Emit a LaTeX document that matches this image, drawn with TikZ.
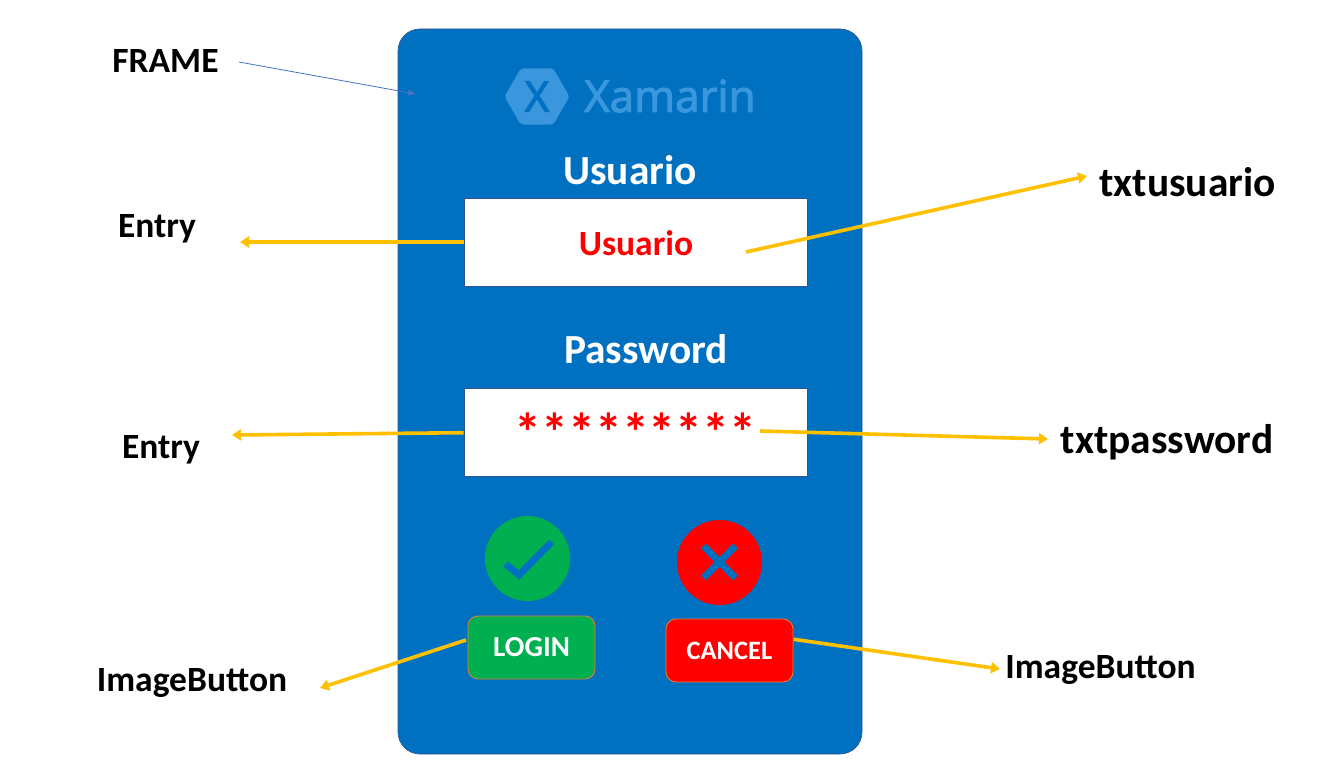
\documentclass[tikz,border=0pt]{standalone}
\usepackage{fontspec}
\setmainfont{Carlito}
\newfontfamily\logofont[FakeBold=2.5]{Open Sans}
\usetikzlibrary{positioning,arrows.meta,shapes.geometric}

\definecolor{framefill}{HTML}{0070C0}
\definecolor{frameline}{HTML}{2F5597}
\definecolor{logoblue}{HTML}{3A97DD}
\definecolor{okgreen}{HTML}{00B050}
\definecolor{pointeryellow}{HTML}{FFC000}
\definecolor{thinblue}{HTML}{4472C4}
\definecolor{btnline}{HTML}{ED7D31}

\begin{document}
\begin{tikzpicture}[x=1pt, y=-1pt, node distance = 102pt,
  every node/.style = {inner sep = 0pt, font = \bfseries},
  pointer/.style = {pointeryellow, line width = 3.6pt, -{Triangle[length=9pt,width=11pt]}},
  entrybox/.style = {rectangle, draw=frameline, line width = 0.7pt, fill=white,
    minimum width = 343pt, minimum height = 88pt},
  btnbox/.style = {rectangle, rounded corners = 10pt, draw=btnline, line width = 0.8pt,
    minimum width = 127pt, minimum height = 63pt, text=white, font = \fontsize{29}{29}\bfseries},
  bigtitle/.style = {text=white, font = \fontsize{41.4}{41.4}\bfseries},
  sidelabel/.style = {text=black, font = \fontsize{35.5}{35.5}\bfseries},
  namelabel/.style = {text=black, font = \fontsize{41.4}{41.4}\bfseries},
  roundbtn/.style = {circle, minimum size = 85pt},
  glyphline/.style = {framefill, line width = 7pt}]
  \useasboundingbox (0,0) rectangle (1325,775);

  \node (frame) [rectangle, rounded corners = 22pt, draw=frameline, line width = 0.7pt, fill=framefill,
    minimum width = 464pt, minimum height = 725pt] at (630,391.5) {};

  \node (hexlogo) [regular polygon, regular polygon sides = 6, fill=logoblue, rounded corners = 3pt,
    minimum size = 65pt] at (537,96.5) {};
  \node (hexx) [text=framefill, font = \fontsize{42}{42}\logofont] at (537,96.5) {X};
  \node (xamarin) [text=logoblue, font = \fontsize{44}{44}\logofont] at (670,96) {Xamarin};

  \node (titleuser) [bigtitle] at (630,170) {Usuario};
  \node (boxuser) [entrybox] at (635.5,242) {};
  \node (textuser) [text=red, font = \fontsize{35.5}{35.5}\bfseries] at (636,243) {Usuario};
  \node (titlepass) [bigtitle] at (646,349) {Password};
  \node (boxpass) [entrybox, below = of boxuser] {};
  \node (textpass) [text=red, font = \fontsize{54}{54}\bfseries] at (635.5,432) {*********};

  \node (okround) [roundbtn, fill=okgreen] at (527.5,558.5) {};
  \node (noround) [roundbtn, fill=red] at (719.5,562.5) {};
  \draw [glyphline] (505.5,564) -- (519,575) -- (551.5,542);
  \draw [glyphline] (703.5,546) -- (735.5,578) (735.5,546) -- (703.5,578);

  \node (btnlogin) [btnbox, fill=okgreen] at (531.5,647.5) {LOGIN};
  \node (btncancel) [btnbox, fill=red, font = \fontsize{26.5}{26.5}\bfseries] at (729.5,650.5) {CANCEL};

  \node (lblframe) [sidelabel] at (165.5,61) {FRAME};
  \node (lblentryuser) [sidelabel] at (157,228.5) {Entry};
  \node (lblentrypass) [sidelabel] at (161,449.5) {Entry};
  \node (lbluser) [namelabel] at (1187.5,182) {txtusuario};
  \node (lblpass) [namelabel] at (1167,442.5) {txtpassword};
  \node (lblimglogin) [sidelabel] at (192,682.5) {ImageButton};
  \node (lblimgcancel) [sidelabel] at (1100.5,669.5) {ImageButton};

  \coordinate (frametip) at (416,94);
  \coordinate (framestart) at (239,62);
  \coordinate (entryusertip) at (240,242);
  \coordinate (entrypasstip) at (232,435);
  \coordinate (userstart) at (746,252);
  \coordinate (usertip) at (1087,176);
  \coordinate (passstart) at (760,431);
  \coordinate (passtip) at (1048,439);
  \coordinate (loginstart) at (466,640);
  \coordinate (logintip) at (320,688);
  \coordinate (canceltip) at (1000,669);

  \draw [thinblue, line width = 0.8pt, -{Triangle[length=8pt,width=6pt]}] (framestart) -- (frametip);
  \draw [pointer] (boxuser.west) -- (entryusertip);
  \draw [pointer] (boxpass.west) -- (entrypasstip);
  \draw [pointer] (userstart) -- (usertip);
  \draw [pointer] (passstart) -- (passtip);
  \draw [pointer] (loginstart) -- (logintip);
  \draw [pointer] (btncancel.10) -- (canceltip);
\end{tikzpicture}
\end{document}
